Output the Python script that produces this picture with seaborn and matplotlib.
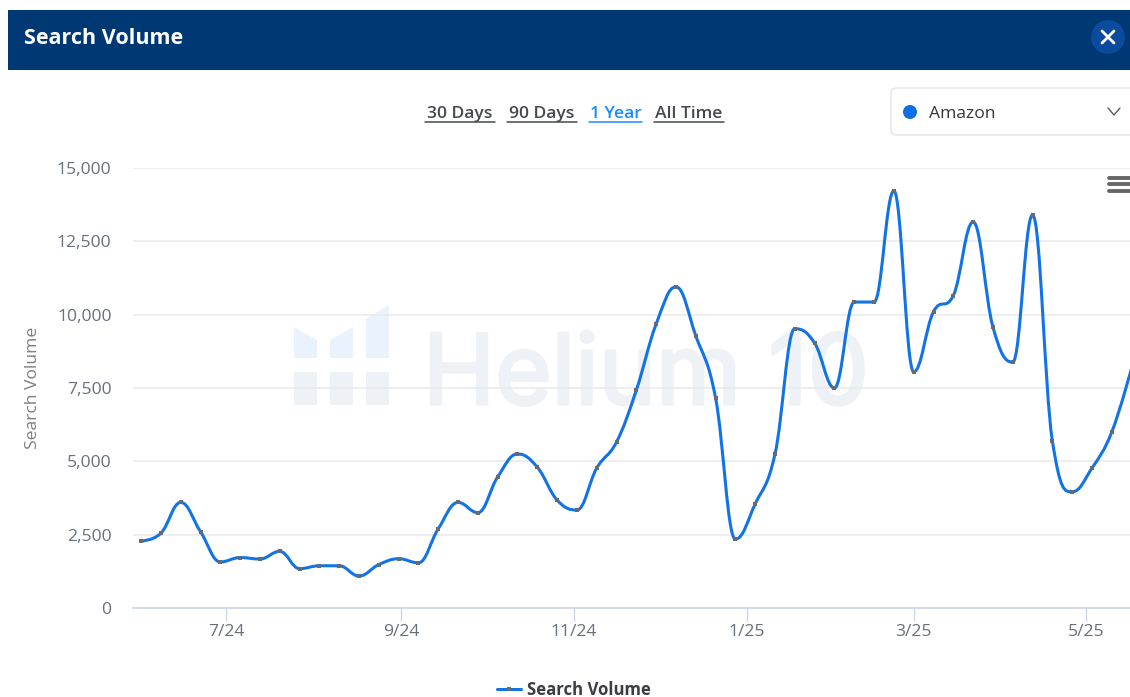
import matplotlib
matplotlib.use("Agg")
import matplotlib.dates as mdates
import matplotlib.patheffects as pe
import matplotlib.pyplot as plt
import numpy as np
import pandas as pd
import seaborn as sns
from matplotlib.patches import Circle, FancyBboxPatch, PathPatch, Polygon, Rectangle
from matplotlib.path import Path
from matplotlib.ticker import FuncFormatter

WIDTH, HEIGHT = 1130, 697
TITLE = "Search Volume"
RANGE_LINKS = ["30 Days", "90 Days", "1 Year", "All Time"]
MARKETPLACE = "Amazon"
WATERMARK = "Helium 10"
START_DATE = "2024-06-01"
SEARCH_VOLUME = [
    2280, 2550, 3600, 2600, 1570, 1720, 1670, 1930, 1340, 1440, 1440, 1090, 1480,
    1680, 1540, 2700, 3600, 3250, 4470, 5250, 4800, 3680, 3340, 4770, 5660, 7430,
    9680, 10950, 9280, 7160, 2350, 3550, 5250, 9520, 9030, 7500, 10430, 10430,
    14220, 8050, 10100, 10650, 13160, 9580, 8380, 13400, 5700, 3960, 4770, 6000, 8180,
]
Y_TICKS = [0, 2500, 5000, 7500, 10000, 12500, 15000]
X_TICK_DATES = ["2024-07-01", "2024-09-01", "2024-11-01", "2025-01-01", "2025-03-01", "2025-05-01"]
X_TICK_LABELS = ["7/24", "9/24", "11/24", "1/25", "3/25", "5/25"]

LINE_BLUE = "#1273e6"
MARKER_GREY = "#666b73"
TICK_GREY = "#68707c"
AXIS_BLUE = "#ccd6eb"


def px(size):
    # css pixels to points at dpi 100
    return size * 0.72


def spline_path(x, y, smoothing=1.5):
    # same control point rule as a highcharts spline series
    denom = smoothing + 1
    verts = [(x[0], y[0])]
    codes = [Path.MOVETO]
    right_prev = (x[0], y[0])
    for i in range(1, len(x)):
        if i < len(x) - 1:
            left_x = (smoothing * x[i] + x[i - 1]) / denom
            left_y = (smoothing * y[i] + y[i - 1]) / denom
            right_x = (smoothing * x[i] + x[i + 1]) / denom
            right_y = (smoothing * y[i] + y[i + 1]) / denom
            shift = (right_y - left_y) * (right_x - x[i]) / (right_x - left_x) + y[i] - right_y
            left_y += shift
            right_y += shift
            if left_y > max(y[i - 1], y[i]) or left_y < min(y[i - 1], y[i]):
                left_y = max(y[i - 1], y[i]) if left_y > y[i] else min(y[i - 1], y[i])
                right_y = 2 * y[i] - left_y
            if right_y > max(y[i + 1], y[i]) or right_y < min(y[i + 1], y[i]):
                right_y = max(y[i + 1], y[i]) if right_y > y[i] else min(y[i + 1], y[i])
                left_y = 2 * y[i] - right_y
        else:
            left_x, left_y = x[i], y[i]
            right_x, right_y = x[i], y[i]
        verts += [right_prev, (left_x, left_y), (x[i], y[i])]
        codes += [Path.CURVE4, Path.CURVE4, Path.CURVE4]
        right_prev = (right_x, right_y)
    return Path(verts, codes)


def draw_chrome(bg):
    bg.add_patch(Rectangle((8, 10), WIDTH - 8, 59.5, color="#003874", lw=0))
    bg.text(23.5, 39, TITLE, color="white", fontsize=px(21.5), fontweight="bold", va="center")
    bg.add_patch(Circle((1108, 37), 17, color="#0b4a9c", lw=0))
    bg.plot([1102, 1114], [31, 43], color="white", lw=2)
    bg.plot([1102, 1114], [43, 31], color="white", lw=2)

    starts = [425, 507, 589, 654]
    ends = [495, 577, 642, 724]
    for label, x0, x1 in zip(RANGE_LINKS, starts, ends):
        col = "#1a8cff" if label == "1 Year" else "#454a50"
        bg.text((x0 + x1) / 2, 114, label, color=col, fontsize=px(17.5), fontweight="semibold",
                ha="center", va="center")
        bg.plot([x0, x1], [122, 122], color=col, lw=1.1)

    bg.add_patch(FancyBboxPatch((891, 88), 300, 47, boxstyle="round,pad=0,rounding_size=5",
                                fc="white", ec="#dedede", lw=0.8))
    bg.add_patch(Circle((910, 112), 7, color="#0d6fe8", lw=0))
    bg.text(929, 114, MARKETPLACE, color="#33373c", fontsize=px(17.5), va="center")
    bg.plot([1108, 1114, 1120], [108, 115, 108], color="#555a60", lw=1)

    # watermark logo and wordmark
    lower = "#eef1f6"
    upper = "#eaf3fd"
    for x0, x1 in [(294, 317), (330, 353), (366, 389)]:
        bg.add_patch(Rectangle((x0, 372), x1 - x0, 33, color=lower, lw=0))
    bg.add_patch(Polygon([(294, 358), (294, 327), (317, 340), (317, 358)], color=upper, lw=0))
    bg.add_patch(Polygon([(330, 358), (330, 340), (353, 327), (353, 358)], color=upper, lw=0))
    bg.add_patch(Polygon([(366, 358), (366, 319), (389, 305), (389, 358)], color=upper, lw=0))
    mark = bg.text(423, 404, WATERMARK, color=lower, fontsize=px(97), family="Inter", va="baseline")
    mark.set_path_effects([pe.withStroke(linewidth=2.4, foreground=lower)])


def draw_menu(fg):
    for y in [177.5, 184, 190.5]:
        fg.plot([1108.5, 1132], [y, y], color="#666666", lw=2.8, solid_capstyle="round")


def main():
    sns.set_theme(style="white")
    plt.rcParams["font.family"] = ["Open Sans", "DejaVu Sans"]

    fig = plt.figure(figsize=(WIDTH / 100, HEIGHT / 100), dpi=100, facecolor="white")

    bg = fig.add_axes([0, 0, 1, 1], zorder=0)
    bg.set_xlim(0, WIDTH)
    bg.set_ylim(HEIGHT, 0)
    bg.axis("off")
    draw_chrome(bg)

    left, right, top, bottom = 133, 1130, 168, 608
    ax = fig.add_axes([left / WIDTH, 1 - bottom / HEIGHT, (right - left) / WIDTH, (bottom - top) / HEIGHT], zorder=1)
    ax.patch.set_alpha(0)

    dates = pd.date_range(START_DATE, periods=len(SEARCH_VOLUME), freq="7D")
    df = pd.DataFrame({"date": dates, "volume": SEARCH_VOLUME, "series": TITLE})

    sns.lineplot(data=df, x="date", y="volume", ax=ax, color=MARKER_GREY, linestyle="none",
                 marker="s", markersize=3.3, markeredgewidth=0, zorder=4, legend=False, snap=False)

    day_x = mdates.date2num(dates)
    ax.add_patch(PathPatch(spline_path(day_x, np.array(SEARCH_VOLUME, dtype=float)), fc="none",
                           ec=LINE_BLUE, lw=2.2, zorder=3))

    per_day = 2.83
    origin = mdates.date2num(pd.Timestamp("2024-07-01"))
    ax.set_xlim(origin + (left - 226) / per_day, origin + (right - 226) / per_day)
    ax.set_ylim(0, 15000)

    ax.set_yticks(Y_TICKS)
    ax.yaxis.set_major_formatter(FuncFormatter(lambda v, _: f"{int(v):,}"))
    ax.set_xticks(mdates.date2num(pd.to_datetime(X_TICK_DATES)))
    ax.set_xticklabels(X_TICK_LABELS)
    ax.grid(axis="y", color="#e9e9e9", lw=1.1)
    ax.set_axisbelow(True)
    sns.despine(ax=ax, left=True, top=True, right=True)
    ax.spines["bottom"].set_color(AXIS_BLUE)
    ax.spines["bottom"].set_linewidth(1.2)
    ax.tick_params(axis="x", bottom=True, length=9.5, width=1, color=AXIS_BLUE, labelcolor=TICK_GREY,
                   labelsize=px(17.5), pad=2)
    ax.tick_params(axis="y", length=0, labelcolor=TICK_GREY, labelsize=px(17.5), pad=15.5)
    ax.set_xlabel("")
    ax.set_ylabel("Search Volume", color="#7c7f84", fontsize=px(17.5), labelpad=0)
    ax.yaxis.set_label_coords((41 - left) / (right - left), 0.5)

    fg = fig.add_axes([0, 0, 1, 1], zorder=2)
    fg.set_xlim(0, WIDTH)
    fg.set_ylim(HEIGHT, 0)
    fg.axis("off")
    draw_menu(fg)

    # legend key and label
    fg.plot([497, 521], [689, 689], color=LINE_BLUE, lw=2.2)
    fg.plot([509], [689], color=MARKER_GREY, marker="s", markersize=3.3, markeredgewidth=0, snap=False)
    fg.text(527, 690, TITLE, color="#3a3f45", fontsize=px(16.7), fontweight="bold", va="center")

    fig.savefig("out.png", dpi=100, facecolor="white")
    plt.close(fig)


if __name__ == "__main__":
    main()
